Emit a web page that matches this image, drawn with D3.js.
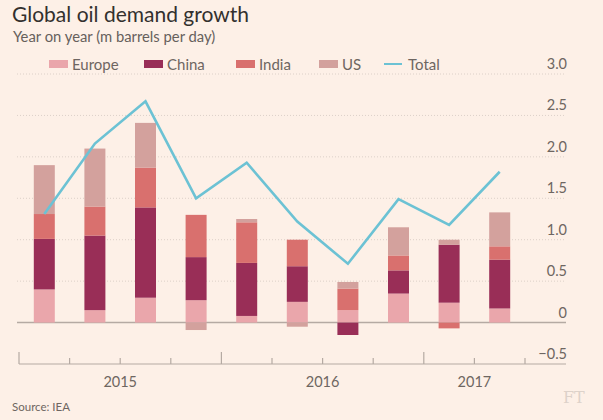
<!DOCTYPE html>
<html><head><meta charset="utf-8">
<script src="https://cdn.jsdelivr.net/npm/d3@7"></script>
<style>
html,body{margin:0;padding:0;background:#fdf0e7;}
svg{display:block;font-family:Lato,"Open Sans",sans-serif;}
</style></head>
<body><svg id="c" width="603" height="420"></svg>
<script>
const quarters = ["2015Q1","2015Q2","2015Q3","2015Q4","2016Q1","2016Q2","2016Q3","2016Q4","2017Q1","2017Q2"];
const europe = [0.40, 0.15, 0.30, 0.27, 0.08, 0.25, 0.15, 0.35, 0.24, 0.17];
const china  = [0.61, 0.90, 1.09, 0.52, 0.64, 0.43, -0.15, 0.28, 0.70, 0.59];
const india  = [0.30, 0.35, 0.48, 0.51, 0.49, 0.32, 0.26, 0.18, -0.07, 0.16];
const us     = [0.59, 0.70, 0.54, -0.09, 0.04, -0.05, 0.08, 0.34, 0.06, 0.41];
const total  = [1.31, 2.16, 2.67, 1.50, 1.93, 1.22, 0.71, 1.49, 1.18, 1.82];
const seriesNames = ["Europe","China","India","US"];
const seriesColors = ["#eaa6ab","#992e57","#d9706e","#d3a19d"];
const totalColor = "#6cc2d4";
const yTicks = [-0.5, 0, 0.5, 1.0, 1.5, 2.0, 2.5, 3.0];
const years = [{label:"2015", from:0, to:4},{label:"2016", from:4, to:8},{label:"2017", from:8, to:10}];

const svg = d3.select("#c");
const rows = quarters.map((q,i)=>({q, Europe:europe[i], China:china[i], India:india[i], US:us[i], total:total[i]}));

const x = d3.scaleBand().domain(quarters).range([19, 525]).paddingInner(0.585).paddingOuter(0.2925);
const y = d3.scaleLinear().domain([-0.5, 3.0]).range([364, 74]);
const step = x.step();
const x0 = x.range()[0];
const plotRight = 566;

// title
svg.append("text").attr("x",12).attr("y",22).attr("font-size",21).attr("fill","#33302e").text("Global oil demand growth");
svg.append("text").attr("x",13).attr("y",42).attr("font-size",14.8).attr("fill","#66605c").text("Year on year (m barrels per day)");

// gridlines
const grid = svg.append("g");
yTicks.forEach(v=>{
  if (v === -0.5) return;
  grid.append("line").attr("x1",17).attr("x2",plotRight).attr("y1",y(v)).attr("y2",y(v))
    .attr("stroke", v===0 ? "#b5aaa3" : "#dcd0c8")
    .attr("stroke-width", v===0 ? 1.5 : 1)
    .attr("stroke-dasharray", v===0 ? null : "1,2");
});
// y labels
svg.append("g").selectAll("text").data(yTicks).join("text")
  .attr("x",567).attr("y",d=>y(d)-5).attr("text-anchor","end").attr("font-size",14.5).attr("fill","#6e6661")
  .text(d=> d===0 ? "0" : d3.format(".1f")(d));

// bars
const stack = d3.stack().keys(seriesNames).offset(d3.stackOffsetDiverging);
const layers = stack(rows);
const bars = svg.append("g");
layers.forEach((layer,li)=>{
  bars.selectAll(null).data(layer).join("rect")
    .attr("x", d=>x(d.data.q)).attr("width", x.bandwidth())
    .attr("y", d=>y(Math.max(d[0],d[1]))).attr("height", d=>Math.abs(y(d[0])-y(d[1])))
    .attr("fill", seriesColors[li]);
});

// total line
const line = d3.line().x(d=>x(d.q)+x.bandwidth()/2).y(d=>y(d.total));
svg.append("path").datum(rows).attr("d",line).attr("fill","none").attr("stroke",totalColor).attr("stroke-width",2.6).attr("stroke-linejoin","miter");

// x axis
const ax = svg.append("g");
ax.append("line").attr("x1",x0).attr("x2",plotRight).attr("y1",y(-0.5)).attr("y2",y(-0.5)).attr("stroke","#b5aaa3").attr("stroke-width",1.2);
d3.range(quarters.length+1).forEach(i=>{
  const major = (i%4===0);
  const tx = x0 + i*step;
  ax.append("line").attr("x1",tx).attr("x2",tx).attr("y1",y(-0.5)).attr("y2",y(-0.5)-(major?12:6)).attr("stroke","#b5aaa3").attr("stroke-width",1.2);
});
ax.selectAll("text").data(years).join("text")
  .attr("x",d=>x0+(d.from+d.to)/2*step).attr("y",387).attr("text-anchor","middle")
  .attr("font-size",14.5).attr("fill","#6e6661").text(d=>d.label);

// legend
const legItems = [{n:"Europe",x:49},{n:"China",x:144},{n:"India",x:236},{n:"US",x:319}];
legItems.forEach((it,i)=>{
  svg.append("rect").attr("x",it.x).attr("y",60).attr("width",19).attr("height",8).attr("fill",seriesColors[i]);
  svg.append("text").attr("x",it.x+23).attr("y",69.5).attr("font-size",15).attr("fill","#6e6661").text(it.n);
});
svg.append("line").attr("x1",384).attr("x2",402).attr("y1",64).attr("y2",64).attr("stroke",totalColor).attr("stroke-width",2);
svg.append("text").attr("x",408).attr("y",69.5).attr("font-size",15).attr("fill","#6e6661").text("Total");

// source & logo
svg.append("text").attr("x",12).attr("y",411).attr("font-size",11.5).attr("fill","#6e6661").text("Source: IEA");
svg.append("text").attr("x",563).attr("y",403).attr("font-size",16).attr("font-family","'DejaVu Serif','Liberation Serif',serif").attr("fill","#ddd2ca").text("FT");
</script></body></html>
